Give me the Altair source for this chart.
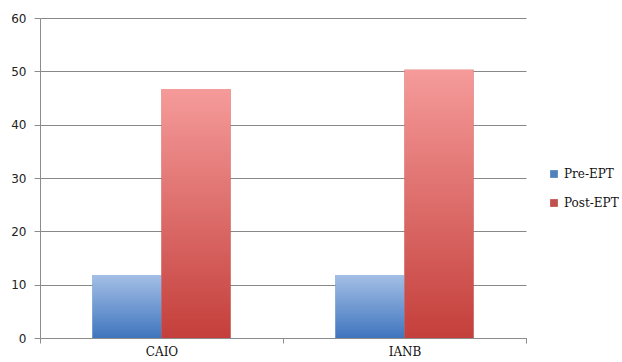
import altair as alt
import pandas as pd

categories = ["CAIO", "IANB"]
pre_ept = [11.8, 11.8]
post_ept = [46.7, 50.3]
series = ["Pre-EPT", "Post-EPT"]

rows = []
for i, c in enumerate(categories):
    rows.append({"cat": c, "series": "Pre-EPT", "value": pre_ept[i]})
    rows.append({"cat": c, "series": "Post-EPT", "value": post_ept[i]})
df = pd.DataFrame(rows)

grad_blue = alt.Gradient(
    gradient="linear",
    stops=[alt.GradientStop(color="#A4BFE6", offset=0),
           alt.GradientStop(color="#3F75BE", offset=1)],
    x1=0, x2=0, y1=0, y2=1,
)
grad_red = alt.Gradient(
    gradient="linear",
    stops=[alt.GradientStop(color="#F59B9A", offset=0),
           alt.GradientStop(color="#C43F3B", offset=1)],
    x1=0, x2=0, y1=0, y2=1,
)

x_enc = alt.X(
    "cat:N", sort=categories, title=None,
    scale=alt.Scale(paddingInner=0, paddingOuter=0),
    axis=alt.Axis(labelAngle=0, labelFont="DejaVu Serif", labelFontSize=12,
                  labelColor="#111111", domainColor="#8c8c8c", tickColor="#8c8c8c",
                  tickSize=5, tickBand="extent", labelPadding=3, grid=False),
)
y_enc = alt.Y(
    "value:Q", title=None,
    scale=alt.Scale(domain=[0, 60], nice=False),
    axis=alt.Axis(values=[0, 10, 20, 30, 40, 50, 60], labelFont="DejaVu Sans",
                  labelFontSize=12, labelColor="#222222", domainColor="#8c8c8c",
                  tickColor="#8c8c8c", tickSize=6, labelPadding=8,
                  gridColor="#888888", gridOpacity=1, gridWidth=1),
)
xo = alt.XOffset("series:N", sort=series,
                 scale=alt.Scale(paddingInner=0, paddingOuter=0.76))

base = alt.Chart(df).mark_bar().encode(
    x=x_enc, y=y_enc, xOffset=xo,
    color=alt.Color("series:N", sort=series,
                    scale=alt.Scale(domain=series, range=["#4F81BD", "#C0504D"]),
                    legend=alt.Legend(title=None, orient="none", legendX=508, legendY=150,
                                      labelFont="DejaVu Serif", labelFontSize=12,
                                      labelColor="#111111", symbolType="square",
                                      symbolSize=60, symbolStrokeWidth=0, rowPadding=17,
                                      labelOffset=4)),
)

pre_layer = alt.Chart(df).transform_filter(alt.datum.series == "Pre-EPT").mark_bar(
    color=grad_blue).encode(x=x_enc, y=y_enc, xOffset=xo)
post_layer = alt.Chart(df).transform_filter(alt.datum.series == "Post-EPT").mark_bar(
    color=grad_red).encode(x=x_enc, y=y_enc, xOffset=xo)

chart = alt.layer(base, pre_layer, post_layer).properties(
    width=486, height=320,
    autosize=alt.AutoSizeParams(type="none"),
    padding={"left": 40, "top": 18, "right": 96, "bottom": 24},
).configure_view(stroke=None)

chart.save("out.html", embed_options={"renderer": "svg", "actions": False})
